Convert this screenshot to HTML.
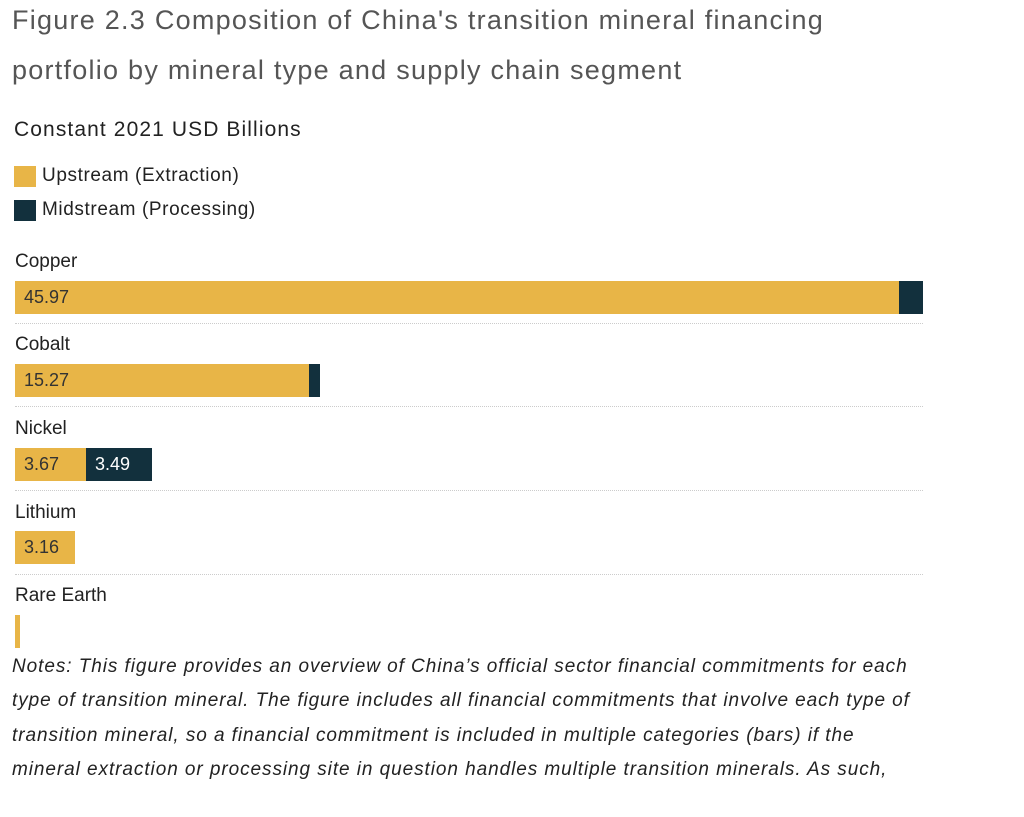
<!DOCTYPE html>
<html><head><style>
body{margin:0;width:1024px;height:817px;background:#fff;position:relative;overflow:hidden;font-family:"Liberation Sans",sans-serif}
.a{position:absolute;white-space:nowrap}
.t{left:12px;font-size:27px;color:#555;letter-spacing:1.25px}
.l{left:15px;font-size:19px;color:#222}
.b{position:absolute;height:33px}
.y{background:#E8B547}.n{background:#12303D}
.v{position:absolute;font-size:18px;color:#333;line-height:33px;padding-left:9px}
.d{position:absolute;left:15px;width:908px;border-top:1px dotted #ccc}
.no{left:12px;font-size:19px;font-style:italic;color:#222;letter-spacing:0.93px}
</style></head><body>
<div class="a t" style="top:5px">Figure 2.3 Composition of China's transition mineral financing</div>
<div class="a t" style="top:55px">portfolio by mineral type and supply chain segment</div>
<div class="a" style="left:14px;top:118px;font-size:21px;color:#222;letter-spacing:1.1px">Constant 2021 USD Billions</div>
<div class="b y" style="left:14px;top:166px;width:22px;height:21px"></div>
<div class="a l" style="left:42px;top:165px;letter-spacing:0.6px">Upstream (Extraction)</div>
<div class="b n" style="left:14px;top:200px;width:22px;height:21px"></div>
<div class="a l" style="left:42px;top:199px;letter-spacing:0.6px">Midstream (Processing)</div>

<div class="a l" style="top:251px">Copper</div>
<div class="b y" style="left:15px;top:281px;width:884px"></div>
<div class="b n" style="left:899px;top:281px;width:24px"></div>
<div class="v" style="left:15px;top:281px">45.97</div>
<div class="d" style="top:323px"></div>

<div class="a l" style="top:334px">Cobalt</div>
<div class="b y" style="left:15px;top:364px;width:294px"></div>
<div class="b n" style="left:309px;top:364px;width:11px"></div>
<div class="v" style="left:15px;top:364px">15.27</div>
<div class="d" style="top:406px"></div>

<div class="a l" style="top:418px">Nickel</div>
<div class="b y" style="left:15px;top:448px;width:71px"></div>
<div class="b n" style="left:86px;top:448px;width:66px"></div>
<div class="v" style="left:15px;top:448px">3.67</div>
<div class="v" style="left:86px;top:448px;color:#fff">3.49</div>
<div class="d" style="top:490px"></div>

<div class="a l" style="top:502px">Lithium</div>
<div class="b y" style="left:15px;top:531px;width:60px"></div>
<div class="v" style="left:15px;top:531px">3.16</div>
<div class="d" style="top:574px"></div>

<div class="a l" style="top:585px">Rare Earth</div>
<div class="b y" style="left:15px;top:615px;width:5px"></div>

<div class="a no" style="top:656px">Notes: This figure provides an overview of China’s official sector financial commitments for each</div>
<div class="a no" style="top:690px">type of transition mineral. The figure includes all financial commitments that involve each type of</div>
<div class="a no" style="top:725px">transition mineral, so a financial commitment is included in multiple categories (bars) if the</div>
<div class="a no" style="top:759px">mineral extraction or processing site in question handles multiple transition minerals. As such,</div>
</body></html>
